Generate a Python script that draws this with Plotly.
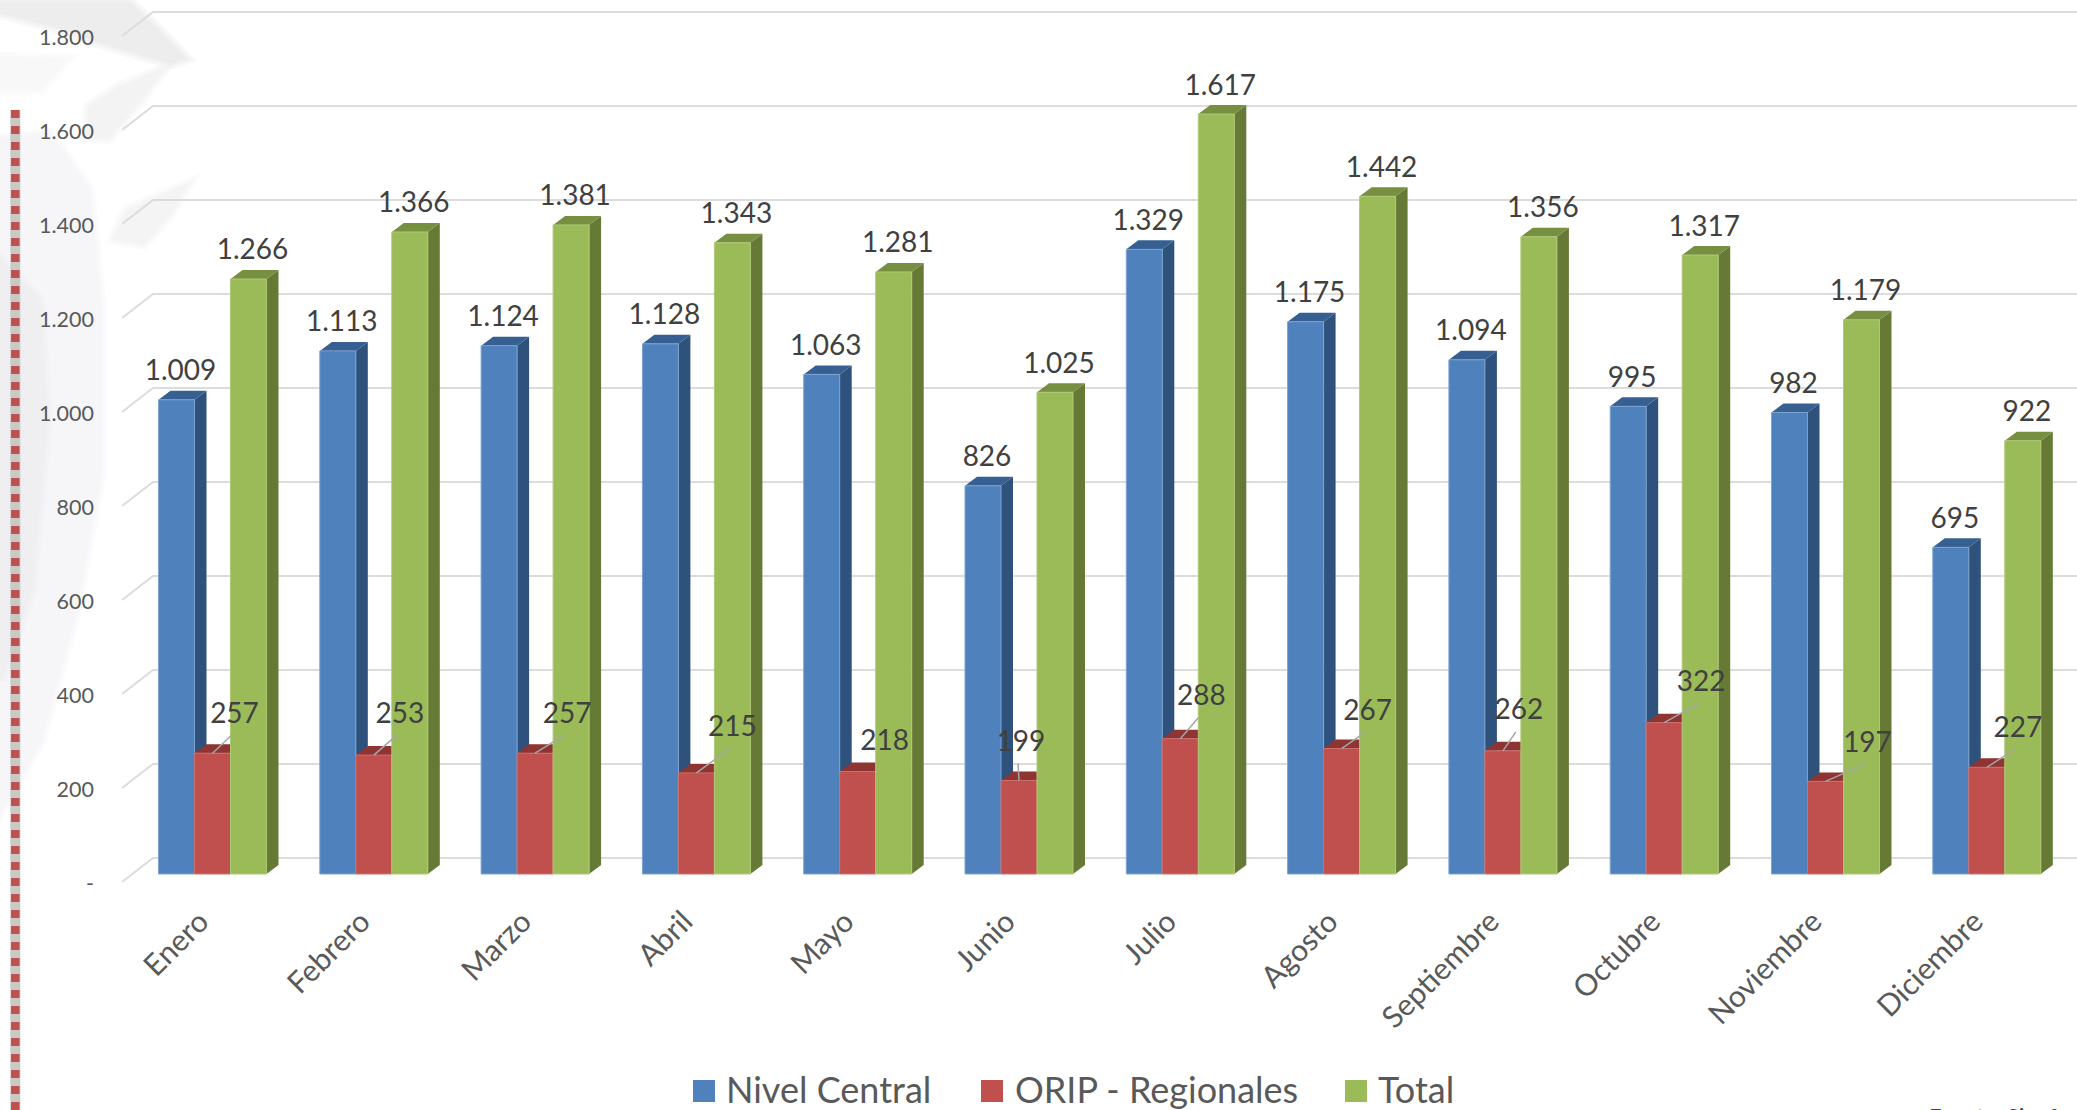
import plotly.graph_objects as go

# Monthly values per series
meses = ["Enero", "Febrero", "Marzo", "Abril", "Mayo", "Junio", "Julio",
         "Agosto", "Septiembre", "Octubre", "Noviembre", "Diciembre"]
nivel_central = [1009, 1113, 1124, 1128, 1063, 826, 1329, 1175, 1094, 995, 982, 695]
orip_regionales = [257, 253, 257, 215, 218, 199, 288, 267, 262, 322, 197, 227]
total = [1266, 1366, 1381, 1343, 1281, 1025, 1617, 1442, 1356, 1317, 1179, 922]
y_ticks = [0, 200, 400, 600, 800, 1000, 1200, 1400, 1600, 1800]
y_tick_text = ["-", "200", "400", "600", "800", "1.000", "1.200", "1.400", "1.600", "1.800"]

# Page geometry
W, H = 2077, 1110
LEFT, ZERO_PX, PLOT_BOTTOM = 122, 882, 892
BAR_BASE_PX = 874
CENTER0_PX, GROUP_PX = 212.5, 161.3
UNIT_PX = 0.47            # pixels per unit on the value axis
BAR_W = 36 / GROUP_PX     # bar width in group units
DEPTH_X = 12 / GROUP_PX   # extrusion of the 3D look
DEPTH_Y = 9 / UNIT_PX
GRID_DX = 31 / GROUP_PX   # floor depth of the gridlines
GRID_DY = 24 / UNIT_PX
SHIFT = (ZERO_PX - BAR_BASE_PX) / UNIT_PX
LABEL_TICK_NUDGE_X = 12.5 / GROUP_PX
LABEL_TICK_NUDGE_Y = 1.2 / UNIT_PX

x_left = (LEFT - CENTER0_PX) / GROUP_PX
x_right = (W - CENTER0_PX) / GROUP_PX
y_bottom = (ZERO_PX - PLOT_BOTTOM) / UNIT_PX
y_top = ZERO_PX / UNIT_PX

FONT = "Lato, Carlito, sans-serif"
idx = list(range(len(meses)))


def fmt(v):
    return f"{v:,}".replace(",", ".")


fig = go.Figure()

# Gridlines: a short diagonal on the side wall, then along the back wall
gx, gy = [], []
for v in y_ticks:
    gx += [x_left, x_left + GRID_DX, x_right, None]
    gy += [v, v + GRID_DY, v + GRID_DY, None]
fig.add_trace(go.Scatter(x=gx, y=gy, mode="lines", yaxis="y",
                         line=dict(color="#DCDCDC", width=2), hoverinfo="skip", showlegend=False))

# Side and top faces of the extruded bars
series = [
    ("Nivel Central", nivel_central, -BAR_W, "#4F81BD", "#2F527C", "#376092", "#7FA3D0"),
    ("ORIP - Regionales", orip_regionales, 0, "#C0504D", "#8E3533", "#8E3533", "#CB706E"),
    ("Total", total, BAR_W, "#9BBB59", "#667A35", "#768F41", "#AEC976"),
]
for name, vals, off, front, side, top, edge in series:
    sx, sy, tx, ty = [], [], [], []
    for i, v in zip(idx, vals):
        xl = i + off - BAR_W / 2
        xr = xl + BAR_W
        sx += [xr, xr + DEPTH_X, xr + DEPTH_X, xr, xr, None]
        sy += [0, DEPTH_Y, v + DEPTH_Y, v, 0, None]
        tx += [xl, xl + DEPTH_X, xr + DEPTH_X, xr, xl, None]
        ty += [v, v + DEPTH_Y, v + DEPTH_Y, v, v, None]
    fig.add_trace(go.Scatter(x=sx, y=sy, mode="lines", fill="toself", fillcolor=side, yaxis="y2",
                             line=dict(width=0, color=side), hoverinfo="skip", showlegend=False))
    fig.add_trace(go.Scatter(x=tx, y=ty, mode="lines", fill="toself", fillcolor=top, yaxis="y2",
                             line=dict(width=0, color=top), hoverinfo="skip", showlegend=False))

# Front faces
for name, vals, off, front, side, top, edge in series:
    fig.add_trace(go.Bar(x=idx, y=vals, name=name, yaxis="y3", width=BAR_W, offset=off - BAR_W / 2,
                         marker=dict(color=front, line=dict(color=edge, width=1)), showlegend=False))

# Value labels above the blue and green columns
for vals, off in ((nivel_central, -BAR_W), (total, BAR_W)):
    fig.add_trace(go.Scatter(
        x=[i + off + 4 / GROUP_PX for i in idx],
        y=[v + 26.5 / UNIT_PX for v in vals],
        text=[fmt(v) for v in vals], mode="text", yaxis="y3", textposition="middle center",
        textfont=dict(family=FONT, size=28, color="#404040"),
        cliponaxis=False, hoverinfo="skip", showlegend=False))

# Red labels sit where they fit between the columns, tied back by a leader line
red_dx = [22, 26, 32, 36, 27, 2, 21, 26, 16, 37, 42, 31]
red_dy = [40, 42, 40, 46, 31, 39, 43, 38, 41, 41, 39, 40]
has_leader = [True, True, True, True, False, True, True, True, True, True, True, True]
lx, ly = [], []
for i, v, dx, dy, leader in zip(idx, orip_regionales, red_dx, red_dy, has_leader):
    if leader:
        lx += [i, i + (dx - 3) / GROUP_PX, None]
        ly += [v, v + (dy - 22) / UNIT_PX, None]
fig.add_trace(go.Scatter(x=lx, y=ly, mode="lines", yaxis="y3",
                         line=dict(color="#A6A6A6", width=1.5), hoverinfo="skip", showlegend=False))
fig.add_trace(go.Scatter(
    x=[i + dx / GROUP_PX for i, dx in zip(idx, red_dx)],
    y=[v + (dy - 2.5) / UNIT_PX for v, dy in zip(orip_regionales, red_dy)],
    text=[fmt(v) for v in orip_regionales], mode="text", yaxis="y3", textposition="middle center",
    textfont=dict(family=FONT, size=28, color="#404040"),
    cliponaxis=False, hoverinfo="skip", showlegend=False))


def px(x):
    return (x - LEFT) / (W - LEFT)


def py(y):
    return 1 - y / PLOT_BOTTOM


def path(points):
    return "M " + " L ".join(f"{px(a):.5f},{py(b):.5f}" for a, b in points) + " Z"


shapes = []
# Pale watermark behind the chart; wide translucent strokes feather the outline
wash = [
    ("#EEEEF2", 0.55, [(0, 140), (50, 135), (88, 190), (100, 310), (100, 470), (75, 610), (40, 740), (0, 810)]),
    ("#E8E8EC", 0.45, [(0, 260), (38, 300), (46, 420), (30, 590), (0, 680)]),
    ("#EFEFEF", 0.45, [(0, 58), (65, 60), (40, 88), (0, 90)]),
    ("#DEDEDE", 0.60, [(0, 4), (130, 4), (155, 28), (184, 58), (172, 62), (145, 55), (108, 44), (60, 27), (0, 12)]),
    ("#E8E8E8", 0.55, [(160, 72), (120, 88), (90, 108), (88, 136), (108, 137), (135, 105)]),
    ("#EAEAEA", 0.55, [(185, 187), (128, 211), (115, 238), (143, 243), (170, 212)]),
]
for color, alpha, pts in wash:
    for width in (14, 8, 3):
        shapes.append(dict(type="path", path=path(pts), xref="paper", yref="paper", layer="below",
                           fillcolor=color, opacity=alpha / 3, line=dict(width=width, color=color)))

# Dotted red rule at the left edge, with its soft shadow
shapes.append(dict(type="line", xref="paper", yref="paper", layer="below",
                   x0=px(15.3), x1=px(15.3), y0=py(110), y1=py(H),
                   line=dict(color="#C9C9C9", width=10)))
shapes.append(dict(type="line", xref="paper", yref="paper", layer="below",
                   x0=px(15.3), x1=px(15.3), y0=py(110), y1=py(H),
                   line=dict(color="#C0504D", width=8.5, dash="8px,8px")))

# Legend row
legend_items = [("Nivel Central", 693, 724, "#4F81BD"), ("ORIP - Regionales", 981, 1013, "#C0504D"),
                ("Total", 1345, 1376, "#9BBB59")]
annotations = []
for label, sw, tx, color in legend_items:
    shapes.append(dict(type="rect", xref="paper", yref="paper", x0=px(sw), x1=px(sw + 22),
                       y0=py(1102), y1=py(1080), fillcolor=color, line=dict(width=0)))
    annotations.append(dict(text=label, xref="paper", yref="paper", x=px(tx), y=py(1089), xanchor="left",
                            yanchor="middle", showarrow=False,
                            font=dict(family=FONT, size=36, color="#595959")))
annotations.append(dict(text="Fuente: Sinof", xref="paper", yref="paper", x=px(1927), y=py(1115),
                        xanchor="left", yanchor="middle", showarrow=False,
                        font=dict(family=FONT, size=22, color="#404040")))

fig.update_layout(
    width=W, height=H, autosize=False,
    margin=dict(l=LEFT, r=0, t=0, b=H - PLOT_BOTTOM, pad=0),
    paper_bgcolor="white", plot_bgcolor="rgba(0,0,0,0)",
    barmode="overlay", showlegend=False,
    shapes=shapes, annotations=annotations,
    xaxis=dict(range=[x_left, x_right], tickmode="array",
               tickvals=[i - LABEL_TICK_NUDGE_X for i in idx], ticktext=meses, tickangle=-45,
               showgrid=False, zeroline=False, showline=False, ticks="", ticklabelstandoff=5,
               tickfont=dict(family=FONT, size=30, color="#595959")),
    yaxis=dict(range=[y_bottom, y_top], tickmode="array",
               tickvals=[v - LABEL_TICK_NUDGE_Y for v in y_ticks], ticktext=y_tick_text,
               showgrid=False, zeroline=False, showline=False, ticks="", ticklabelstandoff=27,
               tickfont=dict(family=FONT, size=21.5, color="#595959")),
    yaxis2=dict(range=[y_bottom - SHIFT, y_top - SHIFT], overlaying="y", visible=False),
    yaxis3=dict(range=[y_bottom - SHIFT, y_top - SHIFT], overlaying="y", visible=False),
)

fig.write_html("out.html", config=dict(displayModeBar=False))
